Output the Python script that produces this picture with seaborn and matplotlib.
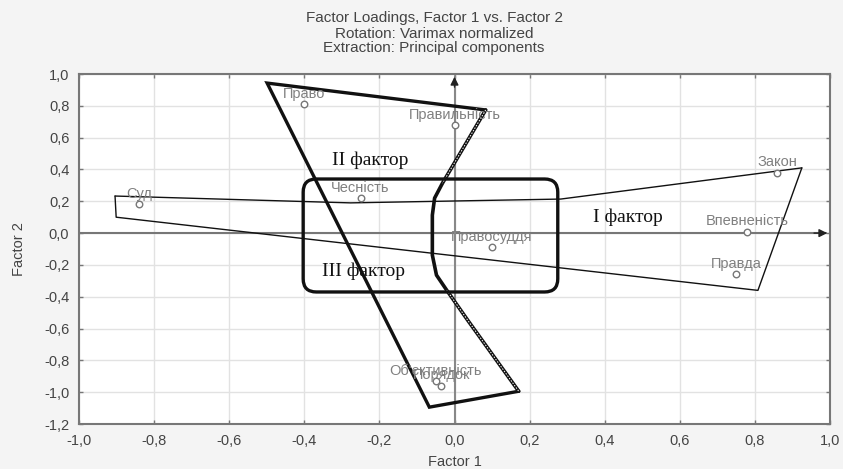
import numpy as np
import pandas as pd
import matplotlib
matplotlib.use("Agg")
import matplotlib.pyplot as plt
import seaborn as sns
from matplotlib.patches import FancyBboxPatch

# ---- data ----
words = ["Суд", "Право", "Правильність", "Чесність", "Правосуддя",
         "Об'єктивність", "Порядок", "Закон", "Впевненість", "Правда"]
factor1 = [-0.84, -0.40, 0.00, -0.25, 0.10, -0.05, -0.035, 0.86, 0.78, 0.75]
factor2 = [0.18, 0.81, 0.68, 0.22, -0.09, -0.93, -0.96, 0.38, 0.01, -0.26]

# Factor I outline (thin polygon)
f1_x = [-0.904, 0.925, 0.808, -0.901, -0.904]
f1_y = [0.233, 0.41, -0.36, 0.10, 0.233]
f1_top_x = [-0.904, -0.277, 0.283, 0.925]
f1_top_y = [0.233, 0.19, 0.214, 0.41]

# Factor II / III hourglass
left_x = [0.083, -0.499, -0.067, 0.171]
left_y = [0.774, 0.943, -1.094, -0.994]
curve_x = [0.083, -0.032, -0.053, -0.059, -0.059, -0.048, -0.021, 0.035, 0.171]
curve_y = [0.774, 0.314, 0.22, 0.113, -0.138, -0.264, -0.358, -0.547, -0.994]

# rounded rectangle (x0, y0, width, height)
rect = (-0.403, -0.37, 0.678, 0.71)

factor_labels = ["II фактор", "I фактор", "III фактор"]
factor_lab_x = [-0.325, 0.368, -0.352]
factor_lab_y = [0.46, 0.10, -0.24]

xticks = [-1.0, -0.8, -0.6, -0.4, -0.2, 0.0, 0.2, 0.4, 0.6, 0.8, 1.0]
yticks = [-1.2, -1.0, -0.8, -0.6, -0.4, -0.2, 0.0, 0.2, 0.4, 0.6, 0.8, 1.0]

df = pd.DataFrame({"Factor 1": factor1, "Factor 2": factor2, "word": words})

sns.set_theme(style="white")
plt.rcParams["font.family"] = ["Liberation Sans", "DejaVu Sans"]

fig = plt.figure(figsize=(8.43, 4.69), dpi=100, facecolor="#f4f4f4")
ax = fig.add_axes([0.0937, 0.0959, 0.8909, 0.7463])
ax.set_facecolor("white")

ax.set_xlim(-1.0, 1.0)
ax.set_ylim(-1.2, 1.0)
ax.set_xticks(xticks)
ax.set_yticks(yticks)
fmt = lambda v: f"{v:.1f}".replace(".", ",")
ax.set_xticklabels([fmt(v) for v in xticks], fontsize=10.5, color="#444444")
ax.set_yticklabels([fmt(v) for v in yticks], fontsize=10.5, color="#444444")
ax.grid(True, color="#e2e2e2", lw=1.0)
ax.set_axisbelow(True)
ax.tick_params(direction="in", length=3, width=1, color="#777777",
               top=True, right=True, bottom=True, left=True)
ax.tick_params(axis="y", pad=7)
ax.tick_params(axis="x", pad=7)
for s in ax.spines.values():
    s.set_color("#777777")
    s.set_linewidth(1.5)

# axes lines with arrows
ax.plot([-1.0, 0.99], [0, 0], color="#777777", lw=1.5, zorder=2)
ax.plot([0, 0], [-1.2, 0.99], color="#888888", lw=1.5, zorder=2)
ax.annotate("", xy=(1.0, 0), xytext=(0.95, 0),
            arrowprops=dict(arrowstyle="-|>", color="#222222", lw=1, mutation_scale=12), zorder=3)
ax.annotate("", xy=(0, 1.0), xytext=(0, 0.9),
            arrowprops=dict(arrowstyle="-|>", color="#222222", lw=1, mutation_scale=12), zorder=3)

# points
sns.scatterplot(data=df, x="Factor 1", y="Factor 2", ax=ax, marker="o", s=22,
                facecolor="white", edgecolor="#777777", linewidth=1, zorder=4)
for w, x, y in zip(words, factor1, factor2):
    ax.annotate(w, (x, y), xytext=(0, 7.5), textcoords="offset points",
                ha="center", va="center", fontsize=10.5, color="#808080", zorder=5)

# Factor I polygon
ax.plot(f1_top_x, f1_top_y, color="#111111", lw=1.0, zorder=3)
ax.plot(f1_x[1:], f1_y[1:], color="#111111", lw=1.0, zorder=3)

# hourglass
ax.plot(left_x, left_y, color="#111111", lw=2.4, zorder=3, solid_joinstyle="miter")
ax.plot(curve_x, curve_y, color="#111111", lw=2.6, zorder=3)
ax.plot(curve_x[:2], curve_y[:2], color="white", lw=0.7, ls=(0, (1.5, 1.5)), zorder=3)
ax.plot(curve_x[6:], curve_y[6:], color="white", lw=0.7, ls=(0, (1.5, 1.5)), zorder=3)

# rounded rectangle
box = FancyBboxPatch((rect[0], rect[1]), rect[2], rect[3],
                     boxstyle="round,pad=0,rounding_size=0.035",
                     mutation_aspect=2.36, fill=False, ec="#111111", lw=2.4, zorder=3)
ax.add_patch(box)

for t, x, y in zip(factor_labels, factor_lab_x, factor_lab_y):
    ax.text(x, y, t, fontsize=14, family=["Liberation Serif", "DejaVu Serif"],
            color="#111111", ha="left", va="center", zorder=6)

ax.set_xlabel("Factor 1", fontsize=10.5, color="#444444", labelpad=5)
ax.set_ylabel("Factor 2", fontsize=10.5, color="#444444", labelpad=13)

fig.text(0.515, 0.962, "Factor Loadings, Factor 1 vs. Factor 2", ha="center", va="center",
         fontsize=11, color="#444444")
fig.text(0.515, 0.928, "Rotation: Varimax normalized", ha="center", va="center",
         fontsize=11, color="#444444")
fig.text(0.515, 0.898, "Extraction: Principal components", ha="center", va="center",
         fontsize=11, color="#444444")

fig.savefig("out.png", dpi=100, facecolor=fig.get_facecolor())
